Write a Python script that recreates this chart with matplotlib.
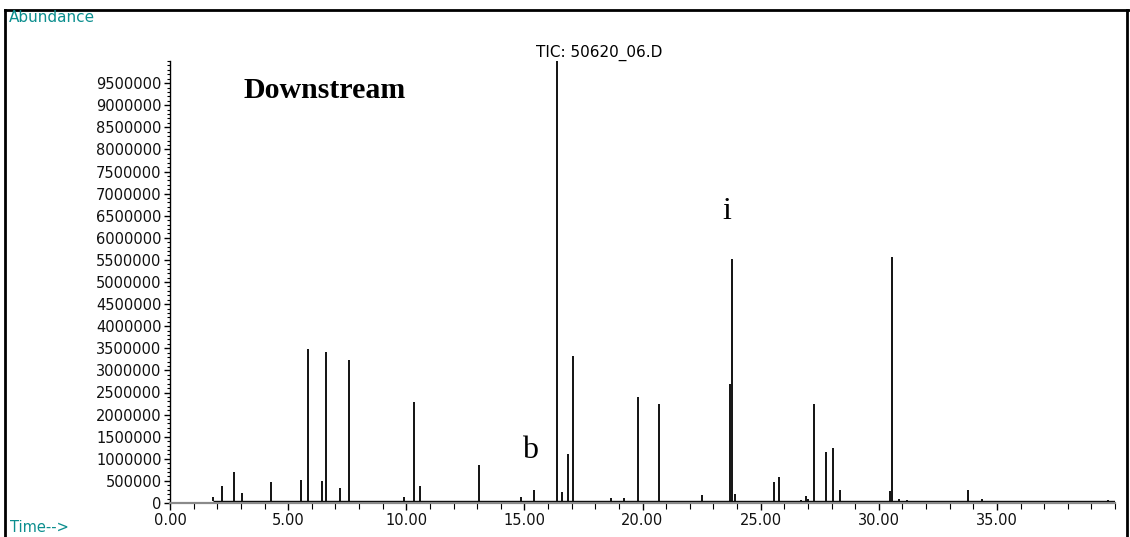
import matplotlib
matplotlib.use("Agg")
import matplotlib.pyplot as plt
from matplotlib.lines import Line2D
from matplotlib.ticker import FixedLocator, MultipleLocator, FuncFormatter

# ---- data (time in min, abundance) ----
peak_times = [1.83, 2.19, 2.71, 3.04, 4.27, 5.54, 5.83, 6.43, 6.61, 7.19,
              7.56, 9.92, 10.34, 10.57, 13.07, 14.86, 15.42, 16.38, 16.60, 16.84,
              17.05, 18.37, 18.65, 19.23, 19.83, 20.71, 22.52, 23.72, 23.78, 23.93,
              24.90, 25.58, 25.78, 26.70, 26.93, 27.02, 27.24, 27.77, 28.06, 28.37,
              30.49, 30.58, 30.85, 31.19, 33.76, 34.36, 35.90, 36.90, 37.60, 38.40,
              39.00, 39.40, 39.70]
peak_heights = [130000, 380000, 710000, 230000, 470000, 520000, 3480000, 500000, 3420000, 350000,
                3230000, 130000, 2280000, 380000, 870000, 130000, 290000, 10000000, 260000, 1110000,
                3330000, 50000, 120000, 120000, 2400000, 2250000, 180000, 2700000, 5520000, 200000,
                50000, 480000, 590000, 60000, 150000, 100000, 2250000, 1160000, 1240000, 290000,
                270000, 5560000, 80000, 70000, 300000, 80000, 40000, 40000, 40000, 40000,
                50000, 50000, 60000]
baseline_level = 40000
trace_start = 1.83
trace_end = 40.0

y_ticks = list(range(0, 10000000, 500000))
x_ticks = [0, 5, 10, 15, 20, 25, 30, 35]
x_tick_labels = ["0.00", "5.00", "10.00", "15.00", "20.00", "25.00", "30.00", "35.00"]

title_text = "TIC: 50620_06.D"
label_text = "Downstream"
teal = "#0b8e8e"

W, H = 1130, 537
fig = plt.figure(figsize=(W / 100, H / 100), dpi=100)
fig.patch.set_facecolor("white")

ax = fig.add_axes([170 / W, (H - 503) / H, 945 / W, 442 / H])
ax.set_xlim(0, 40)
ax.set_ylim(0, 10000000)

ax.hlines(baseline_level, trace_start, trace_end, color="black", lw=1.0)
ax.vlines(peak_times, baseline_level, peak_heights, color="black", lw=1.3)

for s in ["top", "right"]:
    ax.spines[s].set_visible(False)
ax.spines["left"].set_color("black")
ax.spines["left"].set_linewidth(1.0)
ax.spines["bottom"].set_color("#8a8a8a")
ax.spines["bottom"].set_linewidth(1.6)

ax.yaxis.set_major_locator(FixedLocator(y_ticks))
ax.yaxis.set_major_formatter(FuncFormatter(lambda v, p: f"{int(round(v))}"))
ax.yaxis.set_minor_locator(MultipleLocator(100000))
ax.xaxis.set_major_locator(FixedLocator(x_ticks))
ax.set_xticklabels(x_tick_labels)
ax.xaxis.set_minor_locator(MultipleLocator(1))

ax.tick_params(axis="y", which="major", direction="out", length=4, width=1,
               pad=2, labelsize=10.5, labelcolor="#111111")
ax.tick_params(axis="y", which="minor", direction="out", length=2, width=0.8)
ax.tick_params(axis="x", which="major", direction="out", length=5, width=1,
               pad=2, labelsize=10.5, labelcolor="#111111", color="black")
ax.tick_params(axis="x", which="minor", direction="out", length=4, width=0.8, color="black")
for lab in ax.get_xticklabels() + ax.get_yticklabels():
    lab.set_family("DejaVu Sans")

# figure frame lines
fig.add_artist(Line2D([5 / W, 5 / W], [0, (H - 10) / H], transform=fig.transFigure,
                      color="black", lw=2))
fig.add_artist(Line2D([5 / W, 1.0], [(H - 10) / H, (H - 10) / H], transform=fig.transFigure,
                      color="black", lw=2))
fig.add_artist(Line2D([1127 / W, 1127 / W], [0, (H - 10) / H], transform=fig.transFigure,
                      color="black", lw=2))

fig.text(9 / W, (H - 17) / H, "Abundance", color=teal, fontsize=11,
         family="DejaVu Sans", va="center", ha="left")
fig.text(10 / W, 2 / H, "Time-->", color=teal, fontsize=10.5,
         family="DejaVu Sans", va="bottom", ha="left")
fig.text(536 / W, (H - 53) / H, title_text, color="black", fontsize=11,
         family="DejaVu Sans", va="center", ha="left")
fig.text(243 / W, (H - 98) / H, label_text, color="black", fontsize=21.5,
         family="Liberation Serif", weight="bold", va="baseline", ha="left")
fig.text(522 / W, (H - 458) / H, "b", color="black", fontsize=23,
         family="Liberation Serif", va="baseline", ha="left")
fig.text(722 / W, (H - 219) / H, "i", color="black", fontsize=23,
         family="Liberation Serif", va="baseline", ha="left")

fig.savefig("out.png", dpi=100, facecolor="white")
